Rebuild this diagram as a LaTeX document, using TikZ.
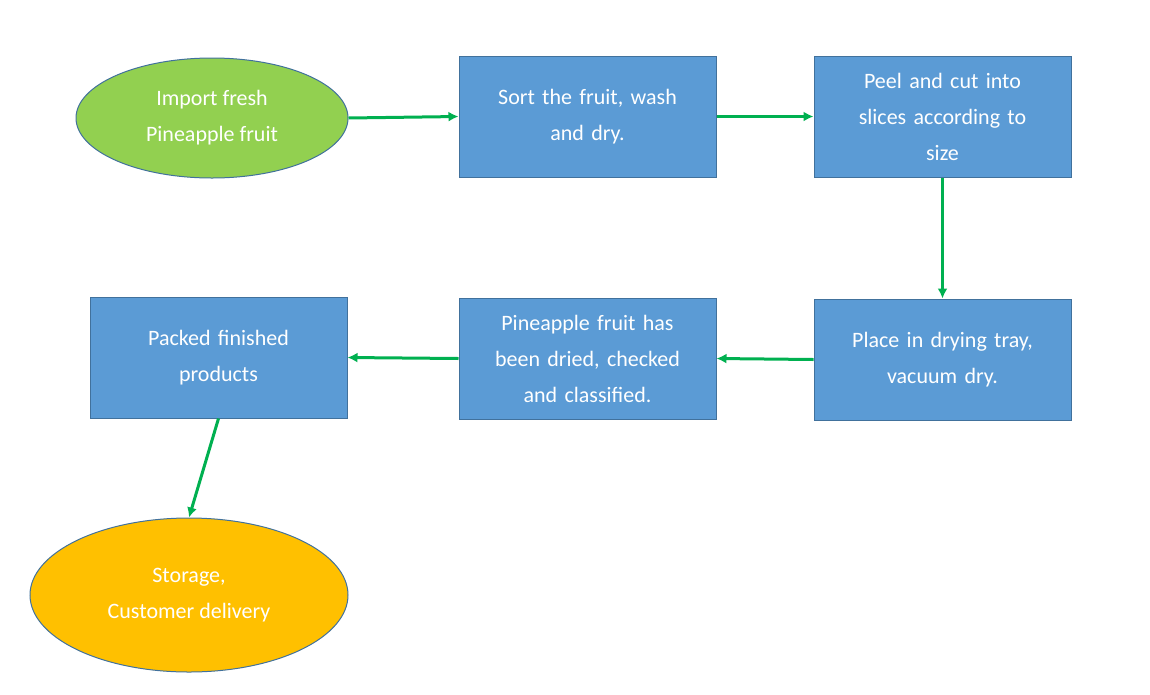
\documentclass[tikz,border=0pt]{standalone}
\usepackage{fontspec}
\setmainfont{Carlito}
\usetikzlibrary{shapes.geometric,arrows.meta}
\definecolor{bx}{HTML}{5B9BD5}
\definecolor{bd}{HTML}{41719C}
\definecolor{gr}{HTML}{92D050}
\definecolor{og}{HTML}{FFC000}
\definecolor{ar}{HTML}{00B050}
\begin{document}
\begin{tikzpicture}[x=1pt,y=-1pt,
  t/.style={text=white,font=\fontsize{22}{36}\selectfont,align=center,draw=bd,line width=1pt,inner sep=0pt},
  box/.style={t,fill=bx,minimum width=257pt,minimum height=121pt,text width=240pt},
  ell/.style={t,ellipse,inner sep=0pt},
  arr/.style={draw=ar,line width=3pt,-{Latex[length=10pt,width=10pt]}}]
\useasboundingbox (0,0) rectangle (1150,694);
\node[ell,fill=gr,minimum width=272pt,minimum height=120pt] (a) at (212,118) {Import fresh\\Pineapple fruit};
\node[box] (b) at (587.5,116.5) {Sort the fruit, wash\\and dry.};
\node[box] (c) at (942.5,116.5) {Peel and cut into\\slices according to\\size};
\node[box] (d) at (942.5,359.5) {Place in drying tray,\\vacuum dry.};
\node[box] (e) at (587.5,358.5) {Pineapple fruit has\\been dried, checked\\and classified.};
\node[box] (f) at (218.5,357.5) {Packed finished\\products};
\node[ell,fill=og,minimum width=318pt,minimum height=154pt] (g) at (189,595) {Storage,\\Customer delivery};
\draw[arr] (a.east) -- (b.west);
\draw[arr] (b.east) -- (c.west);
\draw[arr] (c.south) -- (d.north);
\draw[arr] (d.west) -- (e.east);
\draw[arr] (e.west) -- (f.east);
\draw[arr] (f.south) -- (g.north);
\end{tikzpicture}
\end{document}
